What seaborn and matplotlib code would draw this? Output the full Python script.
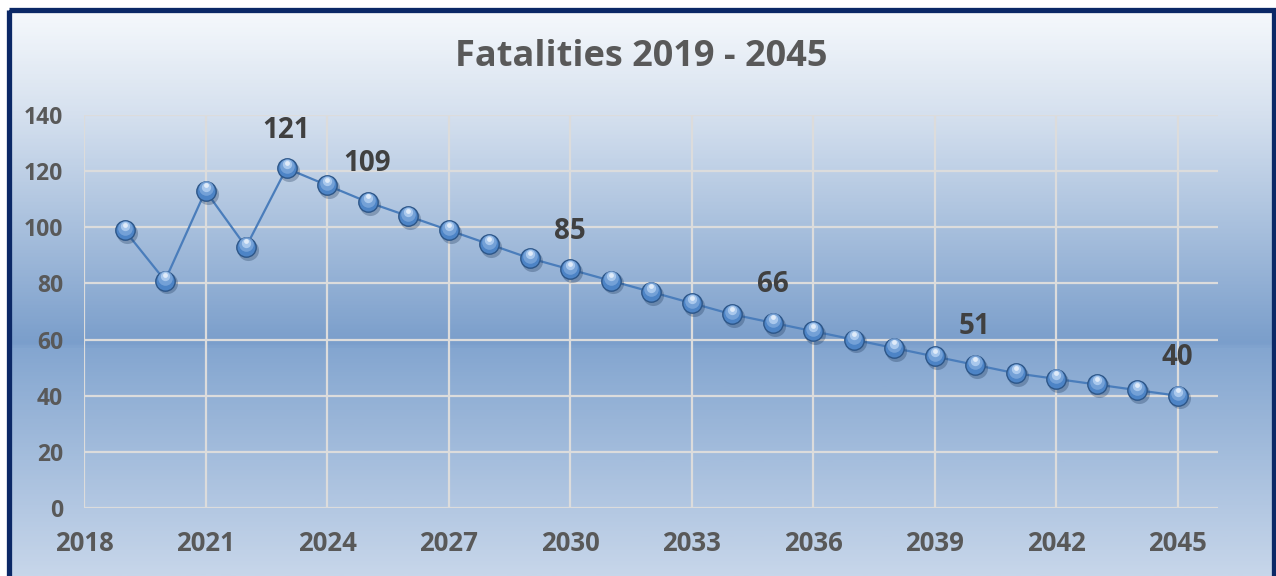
import numpy as np
import pandas as pd
import seaborn as sns
import matplotlib.pyplot as plt
from matplotlib.colors import LinearSegmentedColormap
from matplotlib.patches import Rectangle
from matplotlib.transforms import offset_copy

# datos -------------------------------------------------------------------
years = list(range(2019, 2046))
fatalities = [99, 81, 113, 93, 121, 115, 109, 104, 99, 94, 89, 85, 81, 77, 73,
              69, 66, 63, 60, 57, 54, 51, 48, 46, 44, 42, 40]
label_years = [2023, 2025, 2030, 2035, 2040, 2045]
x_ticks = list(range(2018, 2046, 3))
y_ticks = list(range(0, 141, 20))

datos = pd.DataFrame({'Year': years, 'Fatalities': fatalities})

sns.set_style('white')
plt.rcParams['font.family'] = ['Open Sans', 'DejaVu Sans']
plt.rcParams['font.weight'] = 'bold'

W, H = 1276, 576
fig = plt.figure(figsize=(W / 100, H / 100), dpi=100)

# fondo con degradado ------------------------------------------------------
bg = fig.add_axes([0, 0, 1, 1], zorder=-10)
bg.set_xlim(0, W)
bg.set_ylim(H, 0)
bg.axis('off')
cmap = LinearSegmentedColormap.from_list('fondo', [
    (0.0, '#f6f9fc'), (0.18, '#d6e1ef'), (0.59, '#7a9ecb'), (0.6, '#84a6d0'), (1.0, '#c7d6ea')])
grad = np.linspace(0, 1, 400).reshape(-1, 1)
bg.imshow(grad, cmap=cmap, aspect='auto', extent=(9, 1273, H, 9))
bg.add_patch(Rectangle((8.5, 9.5), 1265, 620, fill=False, edgecolor='#0b2866', lw=3.8))

# grafico -----------------------------------------------------------------
ax = fig.add_axes([84 / W, 1 - 508 / H, (1218 - 84) / W, (508 - 115) / H])
ax.patch.set_alpha(0)

sns.lineplot(data=datos, x='Year', y='Fatalities', ax=ax, color='#4a7dbb', lw=1.6, zorder=3)

# sombra
sombra = offset_copy(ax.transData, fig=fig, x=1.5, y=-2.0, units='points')
ax.scatter(datos['Year'], datos['Fatalities'], s=230, color='#1c3556', alpha=0.3,
           linewidths=0, transform=sombra, zorder=4)
# esfera
sns.scatterplot(data=datos, x='Year', y='Fatalities', ax=ax, s=195, color='#4d84c6',
                edgecolor='#2d5688', linewidth=1.0, zorder=5)
# brillo
brillo = offset_copy(ax.transData, fig=fig, x=0, y=1.8, units='points')
ax.scatter(datos['Year'], datos['Fatalities'], s=110, color='#7fa9dc', alpha=0.8,
           linewidths=0, transform=brillo, zorder=6)
brillo1 = offset_copy(ax.transData, fig=fig, x=0, y=3.0, units='points')
ax.scatter(datos['Year'], datos['Fatalities'], s=45, color='#b3d0f1', alpha=0.85,
           linewidths=0, transform=brillo1, zorder=7)
brillo2 = offset_copy(ax.transData, fig=fig, x=0, y=4.0, units='points')
ax.scatter(datos['Year'], datos['Fatalities'], s=12, color='#eef5fd', alpha=0.8,
           linewidths=0, transform=brillo2, zorder=8)

for yr in label_years:
    val = fatalities[years.index(yr)]
    ax.annotate(str(val), (yr, val), xytext=(0, 27.5), textcoords='offset points',
                ha='center', va='center', fontsize=20, fontweight='bold', color='#404040', zorder=9)

ax.set_xlim(2018, 2046)
ax.set_ylim(0, 140)
ax.set_xticks(x_ticks)
ax.set_yticks(y_ticks)
ax.grid(True, color='#dcdcdc', lw=1.6)
ax.set_axisbelow(True)
for s in ax.spines.values():
    s.set_visible(False)
ax.tick_params(axis='both', length=0, colors='#595959')
ax.tick_params(axis='x', labelsize=18.5, pad=16)
ax.tick_params(axis='y', labelsize=16.5, pad=15)
for t in ax.get_xticklabels() + ax.get_yticklabels():
    t.set_fontweight('bold')
ax.set_xlabel('')
ax.set_ylabel('')

fig.text(641 / W, 1 - 57 / H, 'Fatalities 2019 - 2045', ha='center', va='center',
         fontsize=26, fontweight='bold', color='#595959')

fig.savefig('out.png', dpi=100)
